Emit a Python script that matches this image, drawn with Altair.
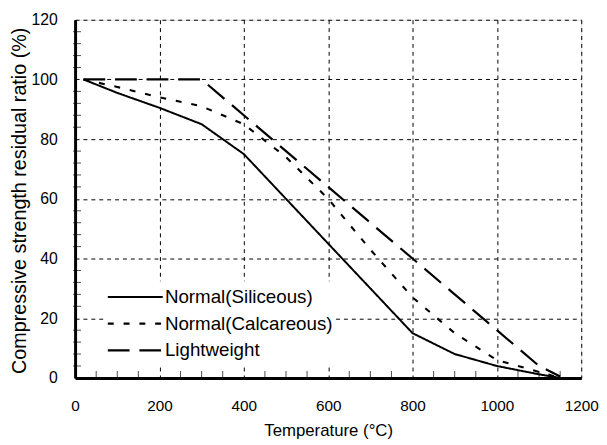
import altair as alt
import pandas as pd

# ---- data ----
temps = [20, 100, 200, 300, 400, 500, 600, 700, 800, 900, 1000, 1100, 1150]
siliceous = [100, 95.5, 90.5, 85, 75, 60, 45, 30, 15, 8, 4, 1.2, 0]
calcareous = [100, 97.5, 94, 91, 85, 74, 60, 43, 27, 15, 6, 2, 0]
lightweight = [100, 100, 100, 100, 88, 76, 64, 52, 40, 28, 16, 4, 0.5]
series = ["Normal(Siliceous)", "Normal(Calcareous)", "Lightweight"]

x_ticks = [0, 200, 400, 600, 800, 1000, 1200]
y_ticks = [0, 20, 40, 60, 80, 100, 120]
y_minor = [v for v in range(0, 121, 4) if v % 20]
x_minor = [v for v in range(0, 1201, 50) if v % 200]

rows = []
for name, vals in zip(series, [siliceous, calcareous, lightweight]):
    for t, v in zip(temps, vals):
        rows.append({"T": t, "ratio": v, "series": name})
df = pd.DataFrame(rows)

FONT = "Liberation Sans"
xscale = alt.Scale(domain=[0, 1200], nice=False, zero=False)
yscale = alt.Scale(domain=[0, 120], nice=False)

legend = alt.Legend(
    title=None, orient="none", legendX=29, legendY=265,
    symbolType="stroke", symbolSize=3100, symbolStrokeColor="black",
    labelFont=FONT, labelFontSize=19, labelColor="black", labelOffset=1,
    labelLimit=0, clipHeight=26, fillColor="white", padding=3, rowPadding=1,
)

lines = alt.Chart(df).mark_line(color="black", strokeCap="butt").encode(
    x=alt.X("T:Q", scale=xscale, axis=alt.Axis(
        values=x_ticks, format="d", title="Temperature (°C)", grid=True, gridDash=[4, 4],
        gridColor="black", gridOpacity=1, gridWidth=1, ticks=False,
        domain=True, domainColor="black", domainWidth=3,
        labelFont=FONT, labelFontSize=15.5, labelColor="black", labelPadding=21,
        labelFlush=False, labelOverlap=False,
        titleFont=FONT, titleFontSize=17, titleFontWeight="normal", titleColor="black",
        titleY=53, titleBaseline="middle")),
    y=alt.Y("ratio:Q", scale=yscale, axis=alt.Axis(
        values=y_ticks, format="d", title="Compressive strength residual ratio (%)", grid=True,
        gridDash=[4, 4], gridColor="black", gridOpacity=1, gridWidth=1, ticks=False,
        domain=True, domainColor="black", domainWidth=3,
        labelFont=FONT, labelFontSize=16, labelColor="black",
        labelPadding=18, labelFlush=False, labelOverlap=False,
        titleFont=FONT, titleFontSize=20, titleFontWeight="normal", titleColor="black",
        titleX=-56, titleY=183, titleAngle=-90, titleAlign="center",
        titleBaseline="middle")),
    strokeDash=alt.StrokeDash("series:N", scale=alt.Scale(
        domain=series, range=[[1, 0], [6, 10], [22, 10]]), legend=legend),
    strokeWidth=alt.StrokeWidth("series:N", scale=alt.Scale(
        domain=series, range=[2, 2.2, 3]), legend=legend),
)

ymin_df = pd.DataFrame({"v": y_minor})
xmin_df = pd.DataFrame({"t": x_minor})

yminor = alt.Chart(ymin_df).mark_tick(orient="horizontal", color="black", size=8, thickness=1).encode(
    y=alt.Y("v:Q", scale=yscale), x=alt.value(2))
xminor = alt.Chart(xmin_df).mark_tick(orient="vertical", color="black", size=8, thickness=1).encode(
    x=alt.X("t:Q", scale=xscale), y=alt.value(360))

chart = alt.layer(lines, yminor, xminor).properties(
    width=513, height=363,
    autosize=alt.AutoSizeParams(type="none"),
    padding={"left": 68, "top": 9, "right": 18, "bottom": 60},
).configure_view(stroke="black", strokeWidth=3).configure(background="white")

chart.save("out.html", embed_options={"renderer": "svg", "actions": False})
